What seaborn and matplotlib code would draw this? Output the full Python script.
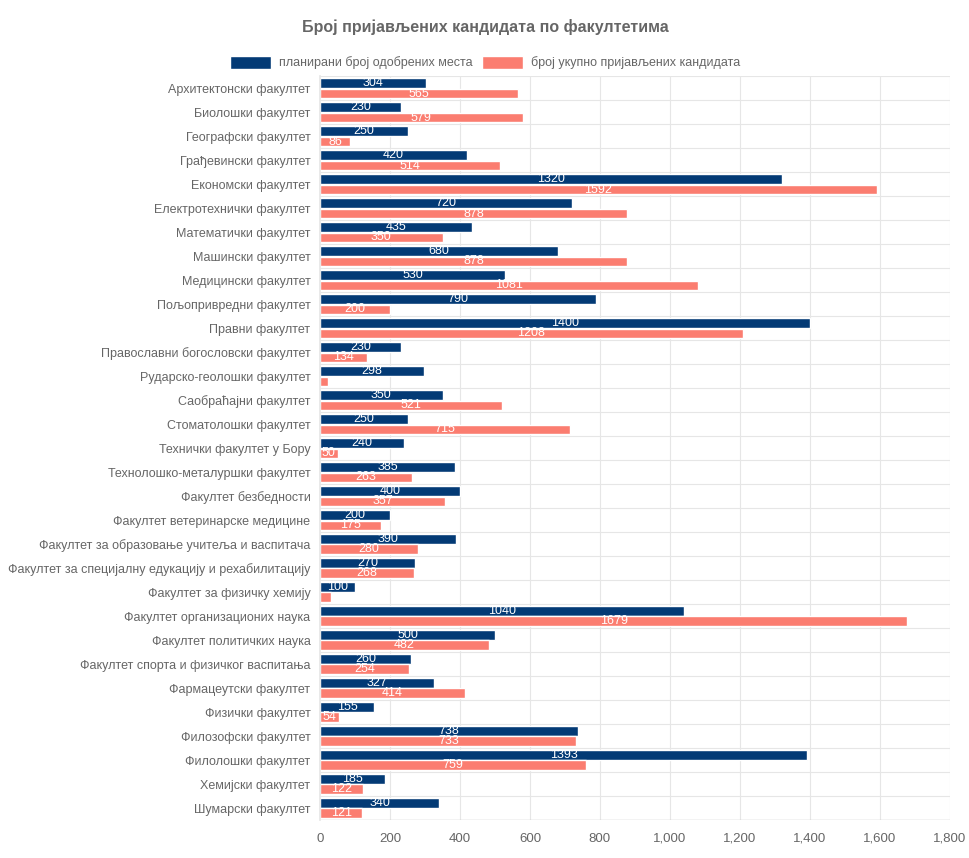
import pandas as pd
import numpy as np
import seaborn as sns
import matplotlib.pyplot as plt
from matplotlib.ticker import FuncFormatter

faculties = [
    'Архитектонски факултет', 'Биолошки факултет', 'Географски факултет',
    'Грађевински факултет', 'Економски факултет', 'Електротехнички факултет',
    'Математички факултет', 'Машински факултет', 'Медицински факултет',
    'Пољопривредни факултет', 'Правни факултет', 'Православни богословски факултет',
    'Рударско-геолошки факултет', 'Саобраћајни факултет', 'Стоматолошки факултет',
    'Технички факултет у Бору', 'Технолошко-металуршки факултет', 'Факултет безбедности',
    'Факултет ветеринарске медицине', 'Факултет за образовање учитеља и васпитача',
    'Факултет за специјалну едукацију и рехабилитацију', 'Факултет за физичку хемију',
    'Факултет организационих наука', 'Факултет политичких наука',
    'Факултет спорта и физичког васпитања', 'Фармацеутски факултет', 'Физички факултет',
    'Филозофски факултет', 'Филолошки факултет', 'Хемијски факултет', 'Шумарски факултет',
]

planned = [304, 230, 250, 420, 1320, 720, 435, 680, 530, 790, 1400, 230, 298, 350, 250,
           240, 385, 400, 200, 390, 270, 100, 1040, 500, 260, 327, 155, 738, 1393, 185, 340]
applied = [565, 579, 86, 514, 1592, 878, 350, 878, 1081, 200, 1208, 134, 22, 521, 715,
           50, 263, 357, 175, 280, 268, 30, 1679, 482, 254, 414, 54, 733, 759, 122, 121]

series = ['планирани број одобрених места', 'број укупно пријављених кандидата']
colors = ['#033a75', '#fb7d70']

df = pd.DataFrame({
    'faculty': faculties * 2,
    'value': planned + applied,
    'series': [series[0]] * len(faculties) + [series[1]] * len(faculties),
})

sns.set_theme(style='white')
plt.rcParams['font.family'] = ['Liberation Sans', 'DejaVu Sans']

fig = plt.figure(figsize=(9.7, 8.58), dpi=100)
ax = fig.add_axes([0.33, 0.044, 0.649, 0.867])

sns.barplot(data=df, y='faculty', x='value', hue='series', orient='h',
            palette=colors, saturation=1, width=0.86, gap=0.04, ax=ax, legend=True)

# value labels centred in the bars, hidden when the bar is too short
for cont in ax.containers:
    labels = [str(int(v)) if v >= 40 else '' for v in cont.datavalues]
    ax.bar_label(cont, labels=labels, label_type='center', color='white',
                 fontsize=9)

ax.set_xlim(0, 1800)
ax.set_xticks(np.arange(0, 1801, 200))
ax.xaxis.set_major_formatter(FuncFormatter(lambda v, p: f'{int(v):,}'))
ax.set_ylim(len(faculties) - 0.5, -0.5)
ax.set_xlabel('')
ax.set_ylabel('')

# grid: vertical at ticks, horizontal between categories
for x in np.arange(200, 1801, 200):
    ax.axvline(x, color='#e6e6e6', lw=0.8, zorder=0)
for y in np.arange(-0.5, len(faculties), 1):
    ax.axhline(y, color='#e6e6e6', lw=0.8, zorder=0)

for s in ['top', 'right', 'bottom']:
    ax.spines[s].set_visible(False)
ax.spines['left'].set_color('#e6e6e6')
ax.axhline(len(faculties) - 0.5, color='#cccccc', lw=1.0, zorder=0)

ax.tick_params(axis='y', colors='#666666', labelsize=9, length=0, pad=7)
ax.tick_params(axis='x', colors='#666666', labelsize=9.5, length=4, color='#cccccc', pad=5)

handles, labels = ax.get_legend_handles_labels()
ax.get_legend().remove()
fig.legend(handles, labels, loc='upper center', bbox_to_anchor=(0.5, 0.948), ncol=2,
           frameon=False, fontsize=9, labelcolor='#666666', handlelength=3.3,
           handleheight=1.2, columnspacing=0.8, handletextpad=0.6)

fig.text(0.5, 0.969, 'Број пријављених кандидата по факултетима', ha='center',
         va='center', fontsize=11.5, fontweight='bold', color='#666666')

fig.savefig('out.png', dpi=100)
